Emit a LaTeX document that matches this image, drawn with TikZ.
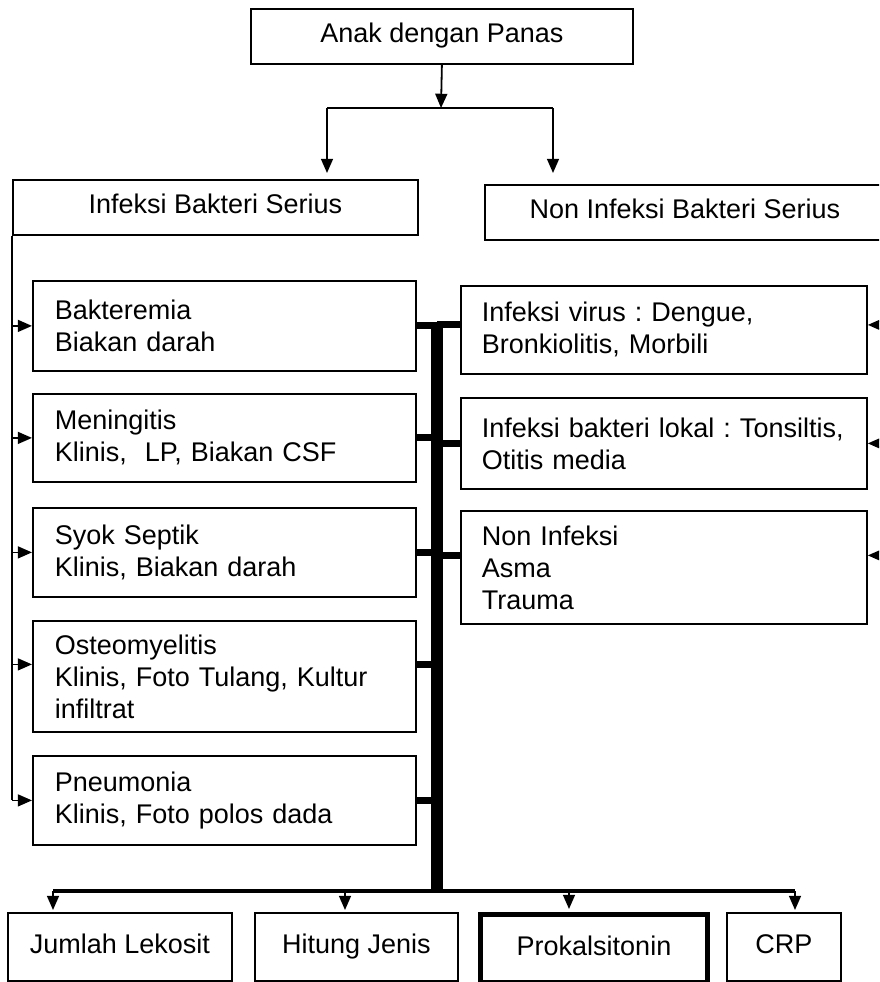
\documentclass[tikz,border=0pt]{standalone}
\usepackage{fontspec}
\setmainfont{Liberation Sans}
\usepackage{tikz}
\usetikzlibrary{arrows.meta}
\usetikzlibrary{positioning}
\frenchspacing
\hyphenpenalty=10000
\tikzset{
    box/.style = {rectangle, draw=black, line width=1.8pt, anchor=north west, inner sep=0pt, align=center, text height=19pt, text depth=6pt},
    lbox/.style = {rectangle, draw=black, line width=1.8pt, anchor=north west, inner xsep=22pt, inner ysep=0pt, align=left, text width=339pt},
    rbox/.style = {rectangle, draw=black, line width=1.8pt, anchor=north west, inner xsep=21pt, inner ysep=0pt, align=left, text width=364pt},
    arr/.style = {-{Triangle[length=0.5cm,width=0.42cm]}},
}

\begin{document}
\begin{tikzpicture}[
	x=1pt, y=-1pt,
	line width=1.8pt,
	font=\fontsize{27}{32}\selectfont
]
\tikzset{
    edgen/.style = {-},
    stub/.style = {-,line width=7pt},
    edgebar/.style = {-,line width=12pt},
    edgebus/.style = {-,line width=4pt},
}
\useasboundingbox (0,0) rectangle (879,982);
\clip (0,0) rectangle (879,982);
%
\node[box, minimum width=382pt, minimum height=55pt] at (250,8) (top) {Anak dengan Panas};
\node[box, minimum width=405pt, minimum height=55pt] at (12,179) (ibs) {Infeksi Bakteri Serius};
\node[box, minimum width=400pt, minimum height=55pt] at (484,184) (nibs) {Non Infeksi Bakteri Serius};
%
\node[lbox, minimum height=90pt] at (32,280) (bak) {Bakteremia\\Biakan darah};
\node[lbox, minimum height=88pt] at (32,393) (men) {Meningitis\\Klinis,~ LP, Biakan CSF};
\node[lbox, minimum height=89pt] at (32,507) (syok) {Syok Septik\\Klinis, Biakan darah};
\node[lbox, minimum height=111pt] at (32,620) (osteo) {Osteomyelitis\\Klinis, Foto Tulang, Kultur\\infiltrat};
\node[lbox, minimum height=89pt] at (32,755) (pneu) {Pneumonia\\Klinis, Foto polos dada};
%
\node[rbox, minimum height=88pt] at (460,285) (viru) {Infeksi virus : Dengue,\\Bronkiolitis, Morbili};
\node[rbox, minimum height=91pt] at (460,397) (lokal) {Infeksi bakteri lokal : Tonsiltis,\\Otitis media};
\node[rbox, minimum height=113pt] at (460,510) (noninf) {Non Infeksi\\Asma\\Trauma};
%
\node[box, minimum width=224pt, minimum height=68pt] at (7,912) (jl) {Jumlah Lekosit};
\node[box, minimum width=203pt, minimum height=68pt] at (254,912) (hj) {Hitung Jenis};
\node[box, line width=5pt, minimum width=227pt, minimum height=68pt] at (478,912) (pct) {Prokalsitonin};
\node[box, minimum width=114pt, minimum height=68pt] at (726,912) (crp) {CRP};
%
\coordinate (split) at (441,108);
\coordinate (lhook) at (327,108);
\coordinate (rhook) at (553,108);
\coordinate (lbus) at (12,0);
\coordinate (redge) at (890,0);
\coordinate (bartop) at (437,322);
\coordinate (barbot) at (437,891);
\coordinate (osteo-in) at ([yshift=12pt]osteo.west);
\coordinate (osteo-out) at ([yshift=12pt]osteo.east);
\coordinate (viru-in) at ([yshift=5pt]viru.west);
\coordinate (viru-out) at ([yshift=5pt]viru.east);
\coordinate (noninf-in) at ([yshift=12pt]noninf.west);
\coordinate (noninf-out) at ([yshift=12pt]noninf.east);
\coordinate (b1) at (53,891);
\coordinate (b2) at (345,891);
\coordinate (b3) at (569,891);
\coordinate (b4) at (795,891);
%
\draw[arr] (top.south) -- (split);
\draw[edgen] (lhook) -- (rhook);
\draw[arr, shorten >=6pt] (lhook) -- (lhook |- ibs.north);
\draw[arr, shorten >=11pt] (rhook) -- (rhook |- nibs.north);
%
\draw[edgen] (ibs.south -| lbus) -- (lbus |- pneu.west);
\draw[arr] (lbus |- bak.west) -- (bak.west);
\draw[arr] (lbus |- men.west) -- (men.west);
\draw[arr] (lbus |- syok.west) -- (syok.west);
\draw[arr] (lbus |- osteo-in) -- (osteo-in);
\draw[arr] (lbus |- pneu.west) -- (pneu.west);
%
\draw[arr] (redge |- viru-out) -- (viru-out);
\draw[arr] (redge |- lokal.east) -- (lokal.east);
\draw[arr] (redge |- noninf-out) -- (noninf-out);
%
\draw[edgebar] (bartop) -- (barbot);
\draw[stub] (bak.east) -- (bak.east -| bartop);
\draw[stub] (men.east) -- (men.east -| bartop);
\draw[stub] (syok.east) -- (syok.east -| bartop);
\draw[stub] (osteo-out) -- (osteo-out -| bartop);
\draw[stub] (pneu.east) -- (pneu.east -| bartop);
\draw[stub] (viru-in -| bartop) -- (viru-in);
\draw[stub] (lokal.west -| bartop) -- (lokal.west);
\draw[stub] (noninf-in -| bartop) -- (noninf-in);
%
\draw[edgebus] (b1) -- (b4);
\draw[arr, shorten >=2pt] (b1) -- (b1 |- jl.north);
\draw[arr, shorten >=2pt] (b2) -- (b2 |- hj.north);
\draw[arr, shorten >=3pt] (b3) -- (b3 |- pct.north);
\draw[arr, shorten >=2pt] (b4) -- (b4 |- crp.north);
\end{tikzpicture}
\end{document}
